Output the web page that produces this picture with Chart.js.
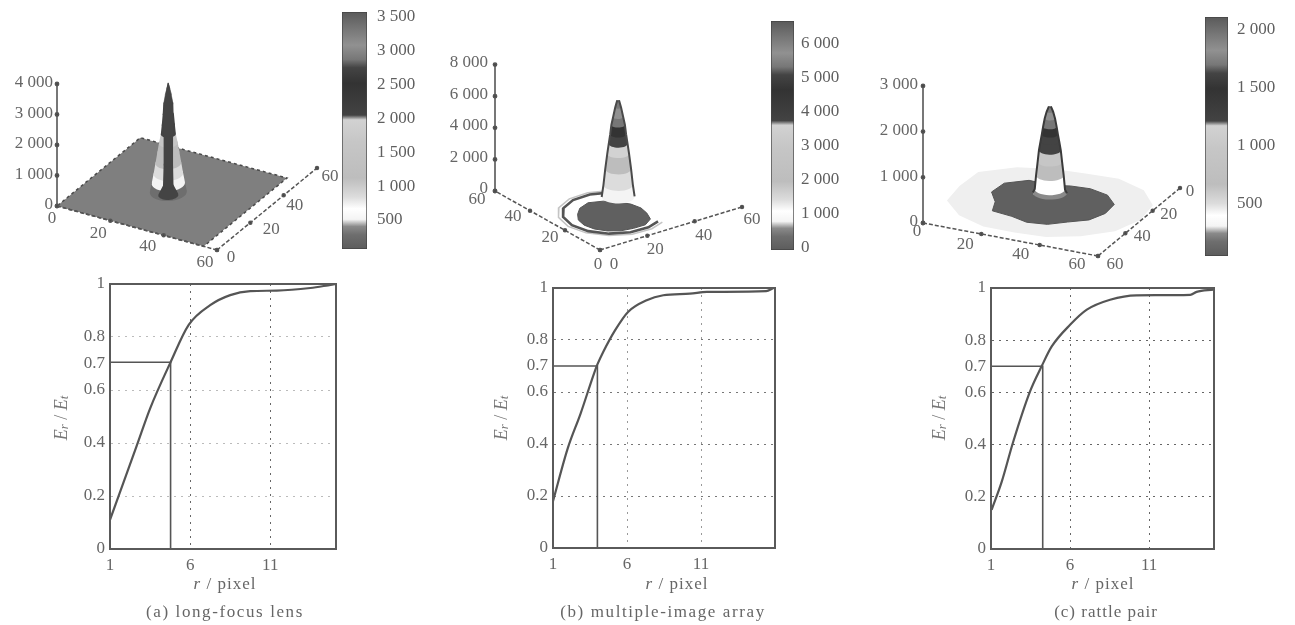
<!DOCTYPE html>
<html>
<head>
<meta charset="utf-8">
<script src="https://cdn.jsdelivr.net/npm/chart.js@4"></script>
<style>
  html, body { margin: 0; background: #fff; }
  body { width: 1295px; height: 625px; position: relative; overflow: hidden; }
  canvas { position: absolute; filter: blur(0.5px); }
</style>
</head>
<body>
<script>
var FONT = '"Liberation Serif"';
var INK = '#5a5a5a';

// energy curves, bottom row
var radiusA = [1, 2.67, 3.5, 4.78, 5.9, 7.25, 8.5, 9.75, 11.4, 13.5, 14.6, 15.1];
var energyA = [0.11, 0.39, 0.53, 0.705, 0.845, 0.92, 0.958, 0.973, 0.975, 0.985, 0.995, 1];
var markXA = [1, 4.78, 4.78];
var markYA = [0.705, 0.705, 0];

var radiusB = [1, 2, 2.87, 3.77, 4, 4.4, 5.2, 6.07, 7.33, 8.45, 10.25, 11.4, 15.4, 15.9];
var energyB = [0.18, 0.384, 0.518, 0.671, 0.706, 0.755, 0.838, 0.908, 0.953, 0.972, 0.978, 0.985, 0.988, 1];
var markXB = [1, 4, 4];
var markYB = [0.70, 0.70, 0];

var radiusC = [1.04, 1.68, 2.4, 3.47, 4.2, 4.84, 6, 7.06, 8.53, 10.2, 13.6, 14, 15.05];
var energyC = [0.15, 0.258, 0.41, 0.604, 0.70, 0.776, 0.859, 0.917, 0.955, 0.972, 0.974, 0.985, 0.994];
var markXC = [1, 4.27, 4.27];
var markYC = [0.70, 0.70, 0];

var rTicks = [1, 6, 11];
var energyTicks = [0, 0.2, 0.4, 0.6, 0.7, 0.8, 1];

// colour bars
var barRangeA = [71, 3574];
var barTicksA = [500, 1000, 1500, 2000, 2500, 3000, 3500];
var barRangeB = [-60, 6676];
var barTicksB = [0, 1000, 2000, 3000, 4000, 5000, 6000];
var barRangeC = [52, 2112];
var barTicksC = [500, 1000, 1500, 2000];

// shared grey colormap: fraction of the bar, shade
var mapFractions = [0, 0.06, 0.095, 0.125, 0.17, 0.22, 0.3, 0.45, 0.545, 0.565, 0.7, 0.765, 0.8, 0.86, 0.92, 1];
var mapShades = ['#5c5c5c', '#6e6e6e', '#8a8a8a', '#f4f4f4', '#ffffff', '#dcdcdc', '#bdbdbd', '#c6c6c6', '#d2d2d2', '#434343', '#333333', '#444444', '#777777', '#919191', '#7a7a7a', '#5a5a5a'];

// surfaces, top row
var xyTicks = [0, 20, 40, 60];
var zTicksA = [0, 1000, 2000, 3000, 4000];
var zTicksB = [0, 2000, 4000, 6000, 8000];
var zTicksC = [0, 1000, 2000, 3000];

var planeXA = [0, 55, 55, 0];
var planeYA = [0, 0, 50, 50];
var peakRadiusA = [5.9, 5.3, 4.7, 4.1, 3.5, 3.0, 2.4, 2.1, 1.8, 1.6, 1.1, 0.6, 0.2];
var peakHeightA = [100, 390, 700, 1050, 1400, 1700, 2000, 2300, 2650, 3000, 3300, 3500, 3670];
var coreRadiusA = [3.2, 1.7, 1.5, 1.5, 1.5, 0.2];
var coreHeightA = [0, 300, 1000, 2000, 3000, 3670];

var blobAngles = [0, 22.5, 45, 67.5, 90, 112.5, 135, 157.5, 180, 202.5, 225, 247.5, 270, 292.5, 315, 337.5];
var peakRadiusB = [5.6, 5.0, 4.4, 3.7, 3.2, 2.7, 2.3, 1.7, 1.0, 0.3];
var peakHeightB = [650, 1400, 2400, 3380, 4000, 4600, 5200, 5700, 6300, 6750];
var blobRadiusB = [12, 12, 12, 13, 14, 13, 12, 12, 12, 12, 12, 12, 12, 13, 13, 12];
var ringAnglesB = [55, 80, 105, 130, 155, 180, 205, 230, 255, 280, 300];
var ringRadiusB = [17, 17, 17, 17, 17, 17, 17, 17, 17, 17, 17];

var peakRadiusC = [5.3, 4.7, 4.3, 3.8, 3.4, 2.9, 2.5, 2.1, 1.6, 1.0, 0.3];
var peakHeightC = [220, 300, 600, 900, 1150, 1350, 1500, 1670, 1850, 2000, 2112];
var blobRadiusC = [19, 18, 16, 17, 17, 16, 19, 17, 20, 21, 19, 14, 15, 17, 19, 20];
var faintRadiusC = [31, 30, 28, 27, 26, 28, 30, 32, 31, 33, 30, 27, 26, 29, 31, 32];

function fmt(v) {
  return String(v).replace(/\B(?=(\d{3})+$)/g, ' ');
}

function place(left, top, width, height) {
  var c = document.createElement('canvas');
  c.width = width;
  c.height = height;
  c.style.left = left + 'px';
  c.style.top = top + 'px';
  document.body.appendChild(c);
  return c;
}

function shadeAt(f) {
  var i = 0;
  while (i < mapFractions.length - 1 && mapFractions[i + 1] <= f) i++;
  return mapShades[i];
}

// mixed italic / subscript text, centred on 0,0
function drawRuns(ctx, runs, size, spacing) {
  var total = 0;
  ctx.letterSpacing = spacing + 'px';
  runs.forEach(function(r) {
    ctx.font = (r.i ? 'italic ' : '') + (r.sub ? size - 5 : size) + 'px ' + FONT;
    r.w = ctx.measureText(r.t).width;
    total += r.w;
  });
  var x = -total / 2;
  ctx.textAlign = 'left';
  ctx.textBaseline = 'middle';
  runs.forEach(function(r) {
    ctx.font = (r.i ? 'italic ' : '') + (r.sub ? size - 5 : size) + 'px ' + FONT;
    ctx.fillText(r.t, x, r.sub ? 3 : 0);
    x += r.w;
  });
  ctx.letterSpacing = '0px';
}

function energyChart(p) {
  var w = 330, h = 350;
  var canvas = place(p.left, 275, w, h);
  var frame = {
    id: 'frame',
    afterDatasetsDraw: function(chart) {
      var a = chart.chartArea, ctx = chart.ctx;
      ctx.save();
      ctx.strokeStyle = INK;
      ctx.lineWidth = 2;
      ctx.strokeRect(a.left, a.top, a.right - a.left, a.bottom - a.top);
      ctx.fillStyle = '#666';
      ctx.translate(p.rTitleX - p.left, 310);
      drawRuns(ctx, [{t: 'r', i: true}, {t: ' / pixel'}], 17, 1);
      ctx.translate(p.captionX - p.rTitleX, 28);
      drawRuns(ctx, [{t: p.caption}], 17, p.captionSpacing);
      ctx.restore();
      ctx.save();
      ctx.fillStyle = '#777';
      ctx.translate(p.eTitleX - p.left, 143);
      ctx.rotate(-Math.PI / 2);
      drawRuns(ctx, [{t: 'E', i: true}, {t: 'r', i: true, sub: true}, {t: ' / '}, {t: 'E', i: true}, {t: 't', i: true, sub: true}], 18, 0);
      ctx.restore();
    }
  };
  return new Chart(canvas.getContext('2d'), {
    type: 'scatter',
    data: {
      datasets: [
        {
          data: p.radius.map(function(r, i) { return {x: r, y: p.energy[i]}; }),
          showLine: true, borderColor: '#555', borderWidth: 2.2, pointRadius: 0,
          cubicInterpolationMode: 'monotone'
        },
        {
          data: p.markX.map(function(r, i) { return {x: r, y: p.markY[i]}; }),
          showLine: true, borderColor: '#555', borderWidth: 1.6, pointRadius: 0
        }
      ]
    },
    options: {
      responsive: false,
      animation: false,
      layout: {autoPadding: false, padding: {left: 0, top: p.top - 275, right: w - (p.right - p.left), bottom: 0}},
      plugins: {legend: {display: false}, tooltip: {enabled: false}},
      scales: {
        x: {
          type: 'linear', min: 1, max: p.xMax,
          afterBuildTicks: function(s) { s.ticks = rTicks.map(function(v) { return {value: v}; }); },
          afterFit: function(s) { s.height = 275 + h - p.bottom; s.paddingLeft = 0; s.paddingRight = 0; },
          grid: {color: p.vGrid, lineWidth: 1, drawTicks: false},
          border: {color: INK, width: 2, dash: [2, 5]},
          ticks: {color: '#666', font: {family: FONT, size: 17}, padding: 6, maxRotation: 0, callback: function(v) { return v; }}
        },
        y: {
          type: 'linear', min: 0, max: 1,
          afterBuildTicks: function(s) { s.ticks = energyTicks.map(function(v) { return {value: v}; }); },
          afterFit: function(s) { s.width = p.plotLeft - p.left; s.paddingTop = 0; s.paddingBottom = 0; },
          grid: {
            color: function(c) { return c.tick && c.tick.value === 0.7 ? 'transparent' : p.hGrid; },
            lineWidth: 1, drawTicks: false
          },
          border: {color: INK, width: 2, dash: [2, 5]},
          ticks: {color: '#666', font: {family: FONT, size: 17}, padding: 5, callback: function(v) { return v; }}
        }
      }
    },
    plugins: [frame]
  });
}

function colorBar(p) {
  var canvas = place(p.left, 0, p.width, p.height);
  return new Chart(canvas.getContext('2d'), {
    type: 'bar',
    data: {
      labels: ['bar'],
      datasets: [{
        data: [p.range],
        barPercentage: 1, categoryPercentage: 1,
        borderColor: '#444', borderWidth: 1, borderSkipped: false,
        backgroundColor: function(c) {
          var a = c.chart.chartArea;
          if (!a) return '#888';
          var g = c.chart.ctx.createLinearGradient(0, a.bottom, 0, a.top);
          mapFractions.forEach(function(f, i) { g.addColorStop(f, mapShades[i]); });
          return g;
        }
      }]
    },
    options: {
      responsive: false,
      animation: false,
      layout: {autoPadding: false, padding: {left: p.barLeft - p.left, top: p.barTop, right: 0, bottom: p.height - p.barBottom}},
      plugins: {legend: {display: false}, tooltip: {enabled: false}},
      scales: {
        x: {display: false},
        y: {
          position: 'right',
          min: p.range[0], max: p.range[1],
          afterBuildTicks: function(s) { s.ticks = p.ticks.map(function(v) { return {value: v}; }); },
          afterFit: function(s) { s.width = p.left + p.width - p.barRight; s.paddingTop = 0; s.paddingBottom = 0; },
          grid: {display: false, drawTicks: false},
          border: {display: false},
          ticks: {color: '#5f5f5f', font: {family: FONT, size: 17}, padding: p.pad, callback: fmt}
        }
      }
    }
  });
}

function surface(p) {
  var cam = p.cam;
  function project(x, y, z) {
    return {
      x: cam.o[0] + cam.ex[0] * x / 60 + cam.ey[0] * y / 60,
      y: cam.o[1] + cam.ex[1] * x / 60 + cam.ey[1] * y / 60 - (z || 0) * cam.zs
    };
  }
  function ring(c, r, z) {
    var pts = [];
    for (var a = 0; a < 32; a++) {
      var t = a / 32 * 2 * Math.PI;
      pts.push(project(c[0] + r * Math.cos(t), c[1] + r * Math.sin(t), z));
    }
    return pts;
  }
  function hull(pts) {
    var s = pts.slice().sort(function(a, b) { return a.x - b.x || a.y - b.y; });
    function half(list) {
      var out = [];
      list.forEach(function(q) {
        while (out.length > 1) {
          var a = out[out.length - 2], b = out[out.length - 1];
          if ((b.x - a.x) * (q.y - a.y) - (b.y - a.y) * (q.x - a.x) <= 0) out.pop();
          else break;
        }
        out.push(q);
      });
      out.pop();
      return out;
    }
    return half(s).concat(half(s.slice().reverse()));
  }
  function polar(c, angles, radii) {
    return angles.map(function(a, i) {
      var t = a * Math.PI / 180;
      return project(c[0] + radii[i] * Math.cos(t), c[1] + radii[i] * Math.sin(t), 0);
    });
  }
  var sets = [];
  function poly(pts, fill, edge, width, dash) {
    sets.push({
      data: pts, showLine: true, pointRadius: 0, clip: false,
      fill: fill ? 'shape' : false, backgroundColor: fill || 'transparent',
      borderColor: edge || 'transparent', borderWidth: edge ? (width || 1) : 0,
      borderDash: dash || []
    });
  }
  function closed(pts) { return pts.concat([pts[0]]); }

  if (p.faint) poly(closed(polar(p.blobCenter, blobAngles, p.faint)), '#efefef');
  if (p.blob) poly(closed(polar(p.blobCenter, blobAngles, p.blob)), '#606060', '#555', 1);
  if (p.ring) {
    poly(polar(p.ringCenter, ringAnglesB, p.ring.map(function(r) { return r + 1.6; })), null, '#c4c4c4', 1.5);
    poly(polar(p.ringCenter, ringAnglesB, p.ring), null, '#555', 2.6);
  }
  if (p.planeX) {
    var corners = p.planeX.map(function(x, i) { return project(x, p.planeY[i], 0); });
    poly(closed(corners), '#7f7f7f', '#4a4a4a', 1.5, [3, 3]);
  }

  // peak, low bands first so the higher ones sit on top
  var left = [], right = [];
  p.peakR.forEach(function(r, i) {
    var rr = ring(p.center, r, p.peakH[i]);
    left.push(rr.reduce(function(m, q) { return q.x < m.x ? q : m; }));
    right.push(rr.reduce(function(m, q) { return q.x > m.x ? q : m; }));
    if (i === p.peakR.length - 1) return;
    var next = ring(p.center, p.peakR[i + 1], p.peakH[i + 1]);
    poly(closed(hull(rr.concat(next))), shadeAt((p.peakH[i] + p.peakH[i + 1]) / 2 / p.range[1]));
  });
  if (p.edge) {
    poly(left, null, p.edge, 2);
    poly(right, null, p.edge, 2);
  }
  if (p.coreR) {
    p.coreR.forEach(function(r, i) {
      if (i === p.coreR.length - 1) return;
      poly(closed(hull(ring(p.center, r, p.coreH[i]).concat(ring(p.center, p.coreR[i + 1], p.coreH[i + 1])))), '#444');
    });
  }

  // axes with tick dots
  var xAxis = xyTicks.map(function(v) { return project(v, p.xAlong, 0); });
  var yAxis = xyTicks.map(function(v) { return project(p.yAlong, v, 0); });
  var zAxis = p.zTicks.map(function(v) { return project(p.zAt[0], p.zAt[1], v); });
  [xAxis, yAxis].forEach(function(a) {
    poly(a, null, '#555', 1.5, [4, 2]);
    sets[sets.length - 1].pointRadius = 1.5;
    sets[sets.length - 1].pointBackgroundColor = '#444';
  });
  poly(zAxis, null, '#555', 1.6);
  sets[sets.length - 1].pointRadius = 1.6;
  sets[sets.length - 1].pointBackgroundColor = '#444';

  var labels = {
    id: 'axisLabels',
    afterDatasetsDraw: function(chart) {
      var ctx = chart.ctx, sx = chart.scales.x, sy = chart.scales.y;
      ctx.save();
      ctx.fillStyle = '#666';
      ctx.font = '17px ' + FONT;
      ctx.textBaseline = 'middle';
      ctx.textAlign = 'center';
      function put(pt, off, text) {
        ctx.fillText(text, sx.getPixelForValue(pt.x) + off[0], sy.getPixelForValue(pt.y) + off[1]);
      }
      xyTicks.forEach(function(v, i) {
        put(xAxis[i], p.xOff[i], String(v));
        put(yAxis[i], p.yOff[i], String(v));
      });
      ctx.textAlign = 'right';
      p.zTicks.forEach(function(v, i) { put(zAxis[i], p.zOff, fmt(v)); });
      ctx.restore();
    }
  };

  var canvas = place(p.left, 0, p.width, 280);
  return new Chart(canvas.getContext('2d'), {
    type: 'scatter',
    data: {datasets: sets.reverse()},
    options: {
      responsive: false,
      animation: false,
      layout: {autoPadding: false, padding: 0},
      plugins: {legend: {display: false}, tooltip: {enabled: false}},
      scales: {
        x: {type: 'linear', display: false, min: p.left, max: p.left + p.width},
        y: {type: 'linear', display: false, min: 0, max: 280, reverse: true}
      }
    },
    plugins: [labels]
  });
}

surface({
  left: 0, width: 340, range: barRangeA,
  cam: {o: [57, 206], ex: [160, 44], ey: [100, -82], zs: 0.0305},
  planeX: planeXA, planeY: planeYA,
  center: [27.5, 22.8], peakR: peakRadiusA, peakH: peakHeightA,
  coreR: coreRadiusA, coreH: coreHeightA,
  zTicks: zTicksA, zAt: [0, 0], zOff: [-4, -1],
  xAlong: 0, yAlong: 60,
  xOff: [[-5, 13], [-12, 13], [-16, 11], [-12, 13]],
  yOff: [[14, 8], [21, 7], [11, 10], [13, 9]]
});

surface({
  left: 440, width: 330, range: barRangeB,
  cam: {o: [600, 250], ex: [142, -43], ey: [-105, -59], zs: 0.0158},
  center: [26, 24.8], peakR: peakRadiusB, peakH: peakHeightB, edge: '#4a4a4a',
  blobCenter: [19.8, 19.6], blob: blobRadiusB, ringCenter: [21.4, 22], ring: ringRadiusB,
  zTicks: zTicksB, zAt: [0, 60], zOff: [-7, -2],
  xAlong: 0, yAlong: 0,
  xOff: [[14, 15], [8, 14], [9, 14], [10, 13]],
  yOff: [[-2, 15], [-15, 7], [-17, 6], [-18, 9]]
});

surface({
  left: 860, width: 340, range: barRangeC,
  cam: {o: [1005, 155], ex: [175, 33], ey: [-82, 68], zs: 0.0457},
  center: [28.7, 28.4], peakR: peakRadiusC, peakH: peakHeightC, edge: '#3a3a3a',
  blobCenter: [28.7, 28.4], blob: blobRadiusC, faint: faintRadiusC,
  zTicks: zTicksC, zAt: [0, 60], zOff: [-5, -1],
  xAlong: 60, yAlong: 60,
  xOff: [[-6, 9], [-16, 11], [-19, 10], [-21, 9]],
  yOff: [[10, 4], [16, 4], [17, 3], [17, 9]]
});

colorBar({left: 338, width: 102, height: 262, barLeft: 342, barRight: 367, barTop: 12, barBottom: 249, range: barRangeA, ticks: barTicksA, pad: 10});
colorBar({left: 768, width: 90, height: 262, barLeft: 771, barRight: 794, barTop: 21, barBottom: 250, range: barRangeB, ticks: barTicksB, pad: 7});
colorBar({left: 1202, width: 93, height: 268, barLeft: 1205, barRight: 1228, barTop: 17, barBottom: 256, range: barRangeC, ticks: barTicksC, pad: 9});

energyChart({
  left: 40, plotLeft: 110, right: 336, top: 284, bottom: 549, xMax: 15.1,
  radius: radiusA, energy: energyA, markX: markXA, markY: markYA, hGrid: '#bbb', vGrid: '#666',
  rTitleX: 225, eTitleX: 62, captionX: 225, caption: '(a) long-focus lens', captionSpacing: 1.6
});
energyChart({
  left: 480, plotLeft: 553, right: 775, top: 288, bottom: 548, xMax: 16,
  radius: radiusB, energy: energyB, markX: markXB, markY: markYB, hGrid: '#777', vGrid: '#999',
  rTitleX: 677, eTitleX: 502, captionX: 663, caption: '(b) multiple-image array', captionSpacing: 1.6
});
energyChart({
  left: 920, plotLeft: 991, right: 1214, top: 288, bottom: 549, xMax: 15.1,
  radius: radiusC, energy: energyC, markX: markXC, markY: markYC, hGrid: '#666', vGrid: '#666',
  rTitleX: 1103, eTitleX: 940, captionX: 1106, caption: '(c) rattle pair', captionSpacing: 1
});
</script>
</body>
</html>
